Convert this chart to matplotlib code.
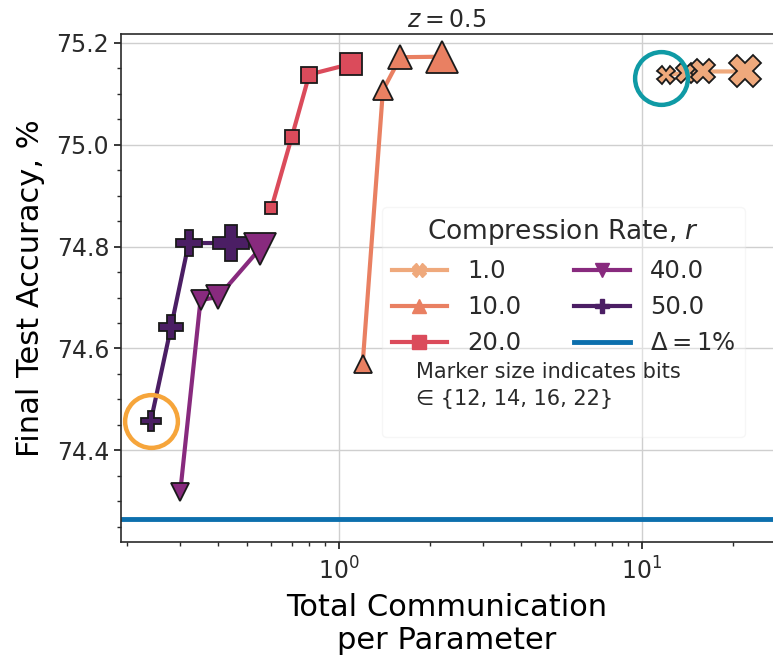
import matplotlib
matplotlib.use('Agg')
import matplotlib.pyplot as plt
from matplotlib.lines import Line2D
from matplotlib.ticker import MultipleLocator, LogLocator, NullFormatter

# bits per run (marker size)
bits = [12, 14, 16, 22]

# compression rates
rates = ['1.0', '10.0', '20.0', '40.0', '50.0']

# total communication per parameter
comm_r1 = [12, 14, 16, 22]
comm_r10 = [1.2, 1.4, 1.6, 2.2]
comm_r20 = [0.6, 0.7, 0.8, 1.1]
comm_r40 = [0.3, 0.35, 0.4, 0.55]
comm_r50 = [0.24, 0.28, 0.32, 0.44]

# final test accuracy, %
acc_r1 = [75.138, 75.140, 75.144, 75.144]
acc_r10 = [74.569, 75.107, 75.172, 75.173]
acc_r20 = [74.876, 75.015, 75.138, 75.159]
acc_r40 = [74.318, 74.695, 74.701, 74.796]
acc_r50 = [74.458, 74.643, 74.807, 74.807]

delta_acc = 74.264

colors = ['#efa97c', '#e98062', '#db4b5b', '#882a7e', '#4b1e64']
markers = ['X', '^', 's', 'v', 'P']
msize_scale = [1.05, 1.05, 0.75, 1.05, 1.2]

comm = [comm_r1, comm_r10, comm_r20, comm_r40, comm_r50]
acc = [acc_r1, acc_r10, acc_r20, acc_r40, acc_r50]

fig = plt.figure(figsize=(7.73, 6.59), dpi=100)
ax = fig.add_axes([0.1565, 0.1775, 0.8435, 0.771])

# draw from high rate to low so lower rates sit on top
for i in reversed(range(len(rates))):
    ax.plot(comm[i], acc[i], color=colors[i], lw=3, zorder=3 + (4 - i) * 0.1)
    for x, y, b in zip(comm[i], acc[i], bits):
        ax.plot(x, y, marker=markers[i], ms=b * msize_scale[i],
                mfc=colors[i], mec='#1a1a1a', mew=1.3, ls='none',
                zorder=3.05 + (4 - i) * 0.1)

ax.axhline(delta_acc, color='#0c6fad', lw=3.5, zorder=2)

# highlight circles
ax.plot(comm_r50[0], acc_r50[0], marker='o', ms=38, mfc='none',
        mec='#f6a53b', mew=3.2, zorder=6)
ax.plot(comm_r1[0] * 0.965, acc_r1[0] - 0.007, marker='o', ms=38, mfc='none',
        mec='#0f9aa5', mew=3.2, zorder=6)

ax.set_xscale('log')
ax.set_xlim(0.1912, 27.15)
ax.set_ylim(74.2197, 75.2177)
ax.yaxis.set_major_locator(MultipleLocator(0.2))
ax.yaxis.set_minor_locator(MultipleLocator(0.05))
ax.xaxis.set_minor_locator(LogLocator(base=10, subs=range(2, 10)))
ax.xaxis.set_minor_formatter(NullFormatter())

ax.grid(True, which='major', color='#cfcfcf', lw=1)
ax.set_axisbelow(True)

ax.tick_params(which='major', length=5, width=1.3, labelsize=17,
               labelcolor='#2a2a2a', color='#2a2a2a')
ax.tick_params(axis='x', which='major', pad=6)
ax.tick_params(which='minor', length=3, width=1, color='#2a2a2a')
for s in ['left', 'bottom', 'top']:
    ax.spines[s].set_color('#2a2a2a')
    ax.spines[s].set_linewidth(1.2)
ax.spines['right'].set_visible(False)

ax.set_title('$z = 0.5$', fontsize=17, color='#2a2a2a', pad=5)
ax.set_xlabel('Total Communication\nper Parameter', fontsize=22, labelpad=6)
ax.set_ylabel('Final Test Accuracy, %', fontsize=22, labelpad=8)

# legend, with blank rows to leave room for the note
handles = []
labels = []
for i in range(3):
    handles.append(Line2D([], [], color=colors[i], lw=3, marker=markers[i], ms=10,
                          mec=colors[i]))
    labels.append(rates[i])
blank = Line2D([], [], color='none')
handles += [blank, blank]
labels += [' ', ' ']
for i in range(3, 5):
    handles.append(Line2D([], [], color=colors[i], lw=3, marker=markers[i], ms=10,
                          mec=colors[i]))
    labels.append(rates[i])
handles.append(Line2D([], [], color='#0c6fad', lw=3.5))
labels.append(r'$\Delta = 1\%$')
handles += [blank, blank]
labels += [' ', ' ']

leg = ax.legend(handles, labels, ncol=2, loc='upper left',
                bbox_to_anchor=(0.400, 0.659), borderaxespad=0,
                fontsize=17.5, title='Compression Rate, $r$', title_fontsize=19,
                handlelength=2.3, columnspacing=2.2, labelspacing=0.5,
                framealpha=0.35, edgecolor='#e6e6e6', fancybox=True)
for t in leg.get_texts():
    t.set_color('#2a2a2a')
leg.get_title().set_color('#2a2a2a')
leg.set_zorder(5)

ax.text(0.452, 0.354, 'Marker size indicates bits\n\u2208 {12, 14, 16, 22}',
        transform=ax.transAxes, fontsize=15, color='#2a2a2a', va='top',
        ha='left', linespacing=1.45, zorder=7)

fig.savefig('out.png', dpi=100)
